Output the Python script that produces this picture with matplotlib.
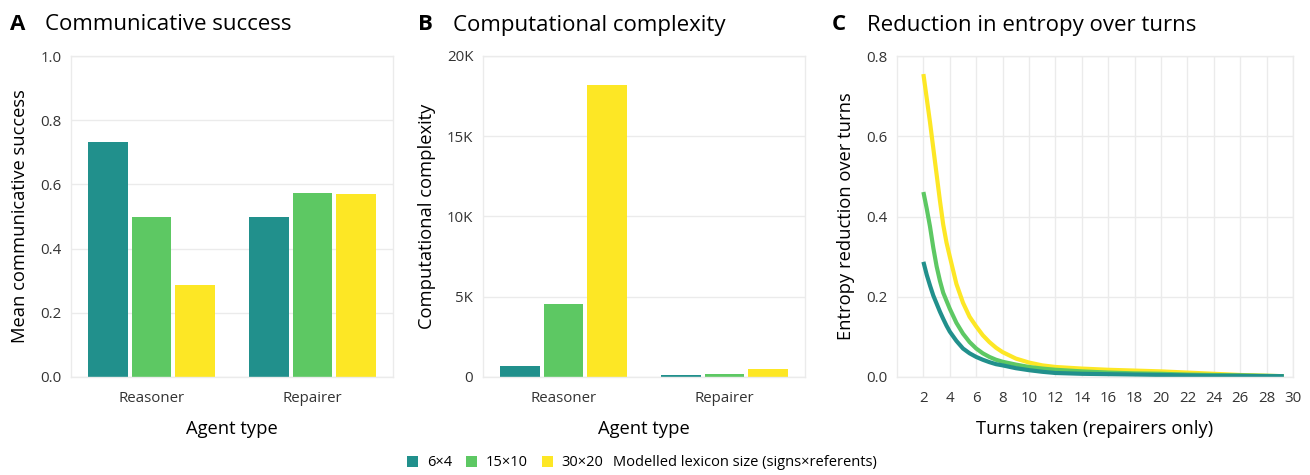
import matplotlib
matplotlib.use("Agg")
import matplotlib.pyplot as plt
from matplotlib.patches import Patch
from matplotlib.ticker import FuncFormatter
import numpy as np

plt.rcParams['font.family'] = ['Open Sans', 'DejaVu Sans']

# data
agent_types = ['Reasoner', 'Repairer']
lexicon_sizes = ['6×4', '15×10', '30×20']
colors = ['#21908C', '#5DC863', '#FDE725']

success = {
    '6×4': [0.733, 0.497],
    '15×10': [0.497, 0.572],
    '30×20': [0.286, 0.569],
}
complexity = {
    '6×4': [670, 110],
    '15×10': [4540, 160],
    '30×20': [18170, 480],
}

turns = [2, 2.25, 2.5, 2.75, 3, 3.25, 3.5, 3.75, 4, 4.5, 5, 5.5, 6, 6.5, 7, 7.5, 8,
         9, 10, 11, 12, 14, 16, 18, 20, 22, 24, 26, 28, 29.3]
entropy = {
    '6×4': [0.287, 0.255, 0.228, 0.203, 0.183, 0.163, 0.145, 0.128, 0.113, 0.09, 0.071,
            0.059, 0.05, 0.043, 0.037, 0.032, 0.029, 0.022, 0.017, 0.013, 0.010, 0.008,
            0.007, 0.006, 0.005, 0.004, 0.003, 0.003, 0.002, 0.002],
    '15×10': [0.461, 0.42, 0.375, 0.322, 0.276, 0.24, 0.21, 0.19, 0.17, 0.135, 0.108,
              0.087, 0.071, 0.059, 0.05, 0.043, 0.038, 0.031, 0.025, 0.021, 0.018, 0.014,
              0.011, 0.009, 0.008, 0.006, 0.005, 0.004, 0.003, 0.002],
    '30×20': [0.755, 0.695, 0.635, 0.57, 0.505, 0.44, 0.38, 0.335, 0.30, 0.232, 0.185,
              0.15, 0.126, 0.104, 0.087, 0.073, 0.062, 0.046, 0.036, 0.029, 0.025, 0.021,
              0.018, 0.016, 0.014, 0.011, 0.008, 0.005, 0.003, 0.002],
}

grid_col = '#EBEBEB'
tick_col = '#333333'

fig = plt.figure(figsize=(13.1, 4.75), dpi=100)
W, H = 1310, 475
bottom = (H - 377) / H
height = 321 / H
axA = fig.add_axes([71 / W, bottom, 322 / W, height])
axB = fig.add_axes([483 / W, bottom, 322 / W, height])
axC = fig.add_axes([897 / W, bottom, 396 / W, height])


def style(ax):
    ax.set_axisbelow(True)
    for s in ax.spines.values():
        s.set_color(grid_col)
        s.set_linewidth(1.0)
    ax.tick_params(length=0, labelsize=10.8, colors=tick_col, pad=7)
    ax.tick_params(axis='x', pad=10)
    ax.grid(True, color=grid_col, linewidth=1.0)


def bars(ax, data):
    x = np.arange(len(agent_types)) + 1
    pitch = 0.272
    for i, size in enumerate(lexicon_sizes):
        ax.bar(x + (i - 1) * pitch, data[size], width=0.246, color=colors[i],
               edgecolor='none')
    ax.set_xticks(x)
    ax.set_xticklabels(agent_types)
    ax.set_xlim(0.5, 2.5)
    ax.grid(False, axis='x')
    ax.set_xlabel('Agent type', fontsize=13.2, labelpad=10)


# A
style(axA)
bars(axA, success)
axA.set_ylim(0, 1)
axA.set_yticks(np.arange(0, 1.01, 0.2))
axA.yaxis.set_major_formatter(FuncFormatter(lambda v, p: f'{v:.1f}'))
axA.set_ylabel('Mean communicative success', fontsize=13.2, labelpad=8)

# B
style(axB)
bars(axB, complexity)
axB.set_ylim(0, 20000)
axB.set_yticks(np.arange(0, 20001, 5000))
axB.yaxis.set_major_formatter(FuncFormatter(lambda v, p: '0' if v == 0 else f'{int(v / 1000)}K'))
axB.set_ylabel('Computational complexity', fontsize=13.2, labelpad=8)

# C
style(axC)
for i in [2, 1, 0]:
    size = lexicon_sizes[i]
    axC.plot(turns, entropy[size], color=colors[i], linewidth=3.0,
             solid_capstyle='butt', solid_joinstyle='round')
axC.set_xlim(0, 30)
axC.set_ylim(0, 0.8)
axC.set_xticks(np.arange(2, 31, 2))
axC.set_yticks(np.arange(0, 0.81, 0.2))
axC.yaxis.set_major_formatter(FuncFormatter(lambda v, p: f'{v:.1f}'))
axC.set_xlabel('Turns taken (repairers only)', fontsize=13.2, labelpad=10)
axC.set_ylabel('Entropy reduction over turns', fontsize=13.2, labelpad=8)

# titles
for x, letter, title in [(10, 'A', 'Communicative success'),
                         (418, 'B', 'Computational complexity'),
                         (832, 'C', 'Reduction in entropy over turns')]:
    fig.text(x / W, 1 - 25 / H, letter, fontsize=16, fontweight='bold', va='center')
    fig.text((x + 35) / W, 1 - 25 / H, title, fontsize=16, va='center')

# legend
handles = [Patch(facecolor=c, edgecolor='none') for c in colors]
fig.legend(handles, lexicon_sizes, loc='center left', bbox_to_anchor=(407 / W, 1 - 463 / H),
           ncol=3, frameon=False, fontsize=10.5, handlelength=0.75, handleheight=0.75,
           handletextpad=0.62, columnspacing=0.95, borderpad=0, borderaxespad=0)
fig.text(613 / W, 1 - 463 / H, 'Modelled lexicon size (signs×referents)', fontsize=10.5, va='center')

fig.savefig('out.png', dpi=100)
